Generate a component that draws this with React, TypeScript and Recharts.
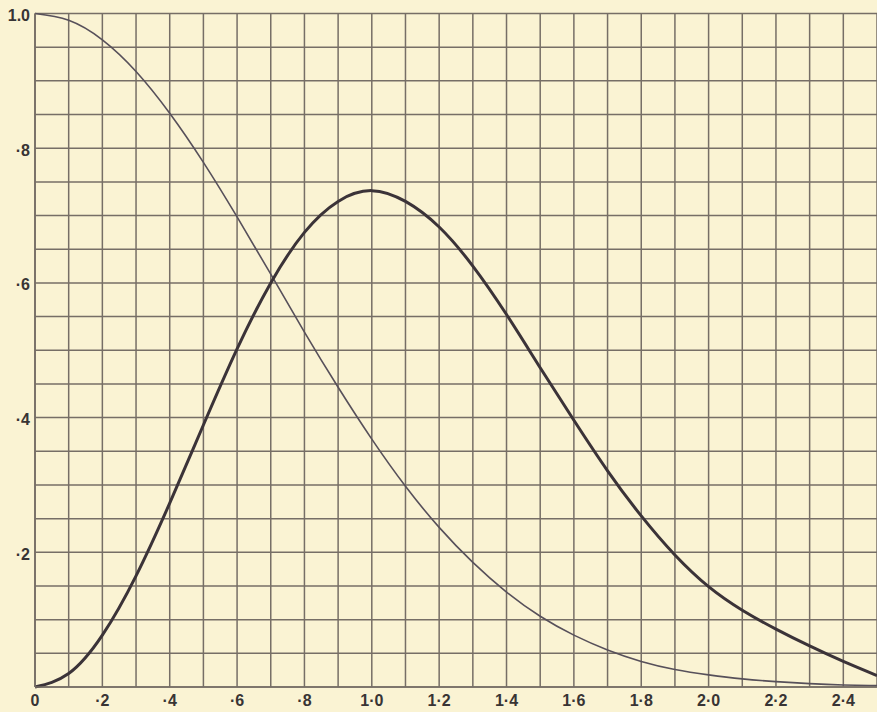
import { LineChart, Line, XAxis, YAxis, CartesianGrid } from 'recharts';

// x values, every 0.1 from 0 to 2.5
const xs = [
  0, 0.1, 0.2, 0.3, 0.4, 0.5, 0.6, 0.7, 0.8, 0.9, 1.0, 1.1, 1.2,
  1.3, 1.4, 1.5, 1.6, 1.7, 1.8, 1.9, 2.0, 2.1, 2.2, 2.3, 2.4, 2.5,
];

// thin curve, falling from 1.0
const thinCurve = [
  1.0, 0.99, 0.961, 0.914, 0.852, 0.779, 0.698, 0.613, 0.527, 0.445, 0.368, 0.298, 0.237,
  0.185, 0.141, 0.105, 0.077, 0.055, 0.038, 0.026, 0.018, 0.012, 0.008, 0.005, 0.003, 0.002,
];

// thick curve, peak near 1.0
const thickCurve = [
  0, 0.02, 0.077, 0.165, 0.273, 0.389, 0.502, 0.6, 0.675, 0.721, 0.737, 0.721, 0.683,
  0.625, 0.553, 0.474, 0.396, 0.321, 0.254, 0.196, 0.149, 0.114, 0.086, 0.061, 0.038, 0.017,
];

const xTicks = xs;
const yTicks = [
  0, 0.05, 0.1, 0.15, 0.2, 0.25, 0.3, 0.35, 0.4, 0.45, 0.5,
  0.55, 0.6, 0.65, 0.7, 0.75, 0.8, 0.85, 0.9, 0.95, 1.0,
];

const xLabels: Record<string, string> = {
  '0': '0', '0.2': '·2', '0.4': '·4', '0.6': '·6', '0.8': '·8', '1': '1·0',
  '1.2': '1·2', '1.4': '1·4', '1.6': '1·6', '1.8': '1·8', '2': '2·0', '2.2': '2·2', '2.4': '2·4',
};
const yLabels: Record<string, string> = {
  '0.2': '·2', '0.4': '·4', '0.6': '·6', '0.8': '·8', '1': '1.0',
};

const data = xs.map((x, i) => ({ x, thin: thinCurve[i], thick: thickCurve[i] }));

const PAPER = '#faf3d3';
const GRID = '#766e66';
const INK = '#3b3338';
const LABEL = '#383434';
const FONT = '"Liberation Sans", Arial, sans-serif';

function XTick(props: any) {
  const { x, y, payload } = props;
  const label = xLabels[String(payload.value)];
  if (!label) return null;
  return (
    <text x={x} y={y + 13} textAnchor="middle" dominantBaseline="central"
      fill={LABEL} fontSize={16} fontWeight="bold" fontFamily={FONT}>
      {label}
    </text>
  );
}

function YTick(props: any) {
  const { x, y, payload } = props;
  const label = yLabels[String(payload.value)];
  if (!label) return null;
  return (
    <text x={x - 5} y={y + 2} textAnchor="end" dominantBaseline="central"
      fill={LABEL} fontSize={16} fontWeight="bold" fontFamily={FONT}>
      {label}
    </text>
  );
}

export default function App() {
  return (
    <div style={{ width: 877, height: 712, background: PAPER, overflow: 'hidden' }}>
      <style>{'body{margin:0;overflow:hidden}'}</style>
      <LineChart width={877} height={712} data={data}
        margin={{ top: 13.5, right: 0, bottom: 0, left: 0 }}>
        <CartesianGrid stroke={GRID} strokeWidth={1.5} />
        <XAxis dataKey="x" type="number" domain={[0, 2.5]} ticks={xTicks}
          axisLine={{ stroke: GRID, strokeWidth: 1.7 }} tickLine={false}
          tickSize={0} tickMargin={0} height={25} tick={<XTick />} interval={0} />
        <YAxis type="number" domain={[0, 1]} ticks={yTicks}
          axisLine={{ stroke: GRID, strokeWidth: 1.7 }} tickLine={false}
          tickSize={0} tickMargin={0} width={35} tick={<YTick />} interval={0} />
        <Line type="natural" dataKey="thin" stroke="#57505a" strokeWidth={1.6}
          dot={false} isAnimationActive={false} />
        <Line type="natural" dataKey="thick" stroke={INK} strokeWidth={3}
          dot={false} isAnimationActive={false} />
      </LineChart>
    </div>
  );
}
